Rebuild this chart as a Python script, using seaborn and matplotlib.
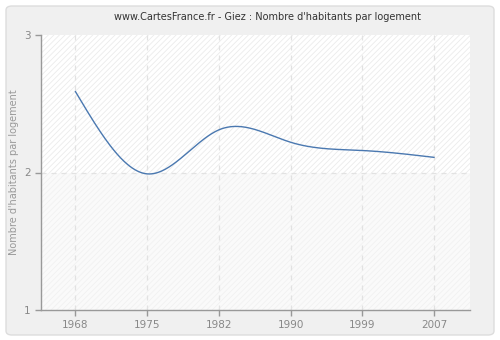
import numpy as np
import pandas as pd
import matplotlib
matplotlib.use("Agg")
import matplotlib.pyplot as plt
import seaborn as sns
from matplotlib.patches import FancyBboxPatch

years = ["1968", "1975", "1982", "1990", "1999", "2007"]
values = [2.59, 1.99, 2.31, 2.22, 2.16, 2.11]
y_ticks = [1, 2, 3]
title = "www.CartesFrance.fr - Giez : Nombre d'habitants par logement"
ylabel = "Nombre d'habitants par logement"

sns.set_theme(style="white")
plt.rcParams['font.family'] = ['DejaVu Sans']
plt.rcParams['hatch.linewidth'] = 0.6


def natural_spline(y, n=60):
    y = np.asarray(y, dtype=float)
    k = len(y)
    A = np.zeros((k, k))
    b = np.zeros(k)
    A[0, 0] = 1
    A[-1, -1] = 1
    for i in range(1, k - 1):
        A[i, i - 1], A[i, i], A[i, i + 1] = 1, 4, 1
        b[i] = 6 * (y[i + 1] - 2 * y[i] + y[i - 1])
    M = np.linalg.solve(A, b)
    xs, ys = [], []
    for i in range(k - 1):
        t = np.linspace(0, 1, n, endpoint=(i == k - 2))
        s = (M[i] * (1 - t) ** 3 / 6 + M[i + 1] * t ** 3 / 6
             + (y[i] - M[i] / 6) * (1 - t) + (y[i + 1] - M[i + 1] / 6) * t)
        xs.extend(i + t)
        ys.extend(s)
    return np.array(xs), np.array(ys)


fig = plt.figure(figsize=(5, 3.4), dpi=100)
fig.patch.set_facecolor("white")
panel = FancyBboxPatch((6 / 500, 5 / 340), 488 / 500, 329 / 340,
                       boxstyle="round,pad=0,rounding_size=0.012",
                       transform=fig.transFigure, facecolor="#f0f0f0",
                       edgecolor="#dddddd", linewidth=1, zorder=-10)
fig.patches.append(panel)

ax = fig.add_axes([40.5 / 500, 1 - 310 / 340, (470 - 40.5) / 500, (310 - 35) / 340])
ax.set_zorder(1)
ax.set_facecolor("white")
ax.axhspan(2, 3, facecolor="white", edgecolor="#ebebeb", hatch="//////", linewidth=0, zorder=0)
ax.axhspan(1, 2, facecolor="#fafafa", edgecolor="#f1f1f1", hatch="//////", linewidth=0, zorder=0)

xs, ys = natural_spline(values)
df = pd.DataFrame({"x": xs, "y": ys})
sns.lineplot(data=df, x="x", y="y", ax=ax, color="#4a78b0", linewidth=1.0, zorder=3)

ax.set_xlim(-0.485, 5.5)
ax.set_ylim(1, 3)
ax.set_xticks(range(len(years)))
ax.set_xticklabels(years)
ax.set_yticks(y_ticks)
ax.set_yticklabels([str(v) for v in y_ticks])

for i in range(len(years)):
    ax.axvline(i, color="#e2e2e2", linestyle=(0, (4, 4)), linewidth=0.9, zorder=1)
ax.axhline(2, color="#e2e2e2", linestyle=(0, (4, 4)), linewidth=0.9, zorder=1)

for s in ["top", "right"]:
    ax.spines[s].set_visible(False)
for s in ["left", "bottom"]:
    ax.spines[s].set_color("#999999")
    ax.spines[s].set_linewidth(1)

ax.tick_params(axis="both", direction="out", length=4, width=1, color="#999999",
               labelcolor="#888888", labelsize=7.5, pad=3, left=True, bottom=True)
ax.set_xlabel("")
ax.set_ylabel(ylabel, color="#999999", fontsize=7, labelpad=4)
fig.text(267 / 500, 1 - 17 / 340, title, ha="center", va="center", fontsize=7, color="#333333")

fig.savefig("out.png", dpi=100, facecolor=fig.get_facecolor())
